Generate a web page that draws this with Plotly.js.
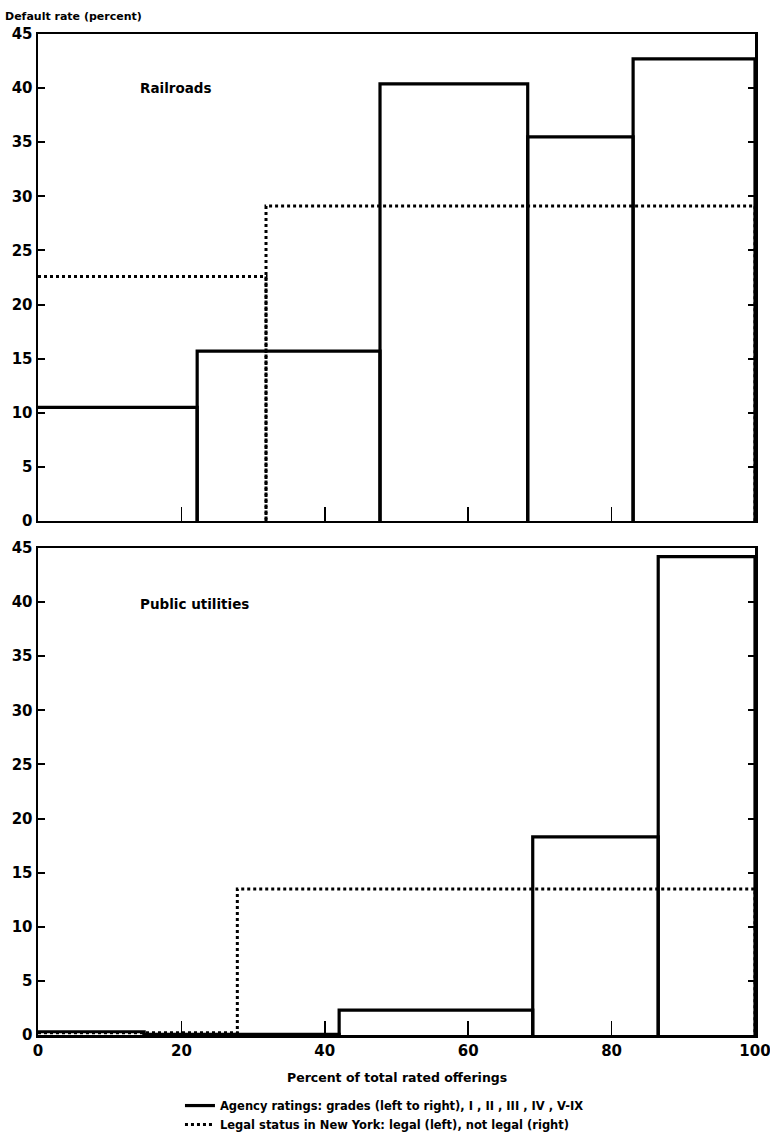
<!DOCTYPE html>
<html>
<head>
<meta charset="utf-8">
<script src="https://cdn.plot.ly/plotly-3.0.1.min.js"></script>
<style>html,body{margin:0;padding:0;background:#fff;}#chart{width:770px;height:1138px;}</style>
</head>
<body>
<div id="chart"></div>
<script>
// Railroads: agency rating grades I, II, III, IV, V-IX
const railAgencyEdges = [0, 22.2, 47.7, 68.3, 83.0, 100];
const railAgencyRates = [10.5, 15.7, 40.4, 35.5, 42.7];
// Railroads: legal status in New York (legal, not legal)
const railLegalEdges = [0, 31.8, 100];
const railLegalRates = [22.6, 29.1];
// Public utilities: agency rating grades
const utilAgencyEdges = [0, 14.8, 42.0, 69.0, 86.5, 100];
const utilAgencyRates = [0.3, 0.05, 2.3, 18.3, 44.2];
// Public utilities: legal status
const utilLegalEdges = [0, 27.8, 100];
const utilLegalRates = [0.2, 13.5];

const yTicks = [0, 5, 10, 15, 20, 25, 30, 35, 40, 45];
const xTicks = [0, 20, 40, 60, 80, 100];

// histogram-style outline; the edge at x = 0 lies on the axis and is not redrawn
function outline(edges, rates) {
  const xs = [], ys = [];
  for (let i = 0; i < rates.length; i++) {
    if (i > 0) { xs.push(edges[i]); ys.push(0); }
    xs.push(edges[i], edges[i + 1], edges[i + 1], null);
    ys.push(rates[i], rates[i], 0, null);
  }
  return {x: xs, y: ys};
}

const FONT = '"DejaVu Sans", Lato, sans-serif';
const solidLine = {color: '#000', width: 3.2};
const dotLine = {color: '#000', width: 3, dash: 'dot'};

const ra = outline(railAgencyEdges, railAgencyRates);
const rl = outline(railLegalEdges, railLegalRates);
const ua = outline(utilAgencyEdges, utilAgencyRates);
const ul = outline(utilLegalEdges, utilLegalRates);

const data = [
  {x: ra.x, y: ra.y, mode: 'lines', line: solidLine, xaxis: 'x', yaxis: 'y',
   name: 'Agency ratings: grades (left to right), I , II , III , IV , V-IX', showlegend: true, legendrank: 1, hoverinfo: 'skip'},
  {x: rl.x, y: rl.y, mode: 'lines', line: dotLine, xaxis: 'x', yaxis: 'y',
   name: 'Legal status in New York: legal (left), not legal (right)', showlegend: true, legendrank: 2, hoverinfo: 'skip'},
  {x: ua.x, y: ua.y, mode: 'lines', line: solidLine, xaxis: 'x2', yaxis: 'y2', showlegend: false, hoverinfo: 'skip'},
  {x: ul.x, y: ul.y, mode: 'lines', line: dotLine, xaxis: 'x2', yaxis: 'y2', showlegend: false, hoverinfo: 'skip'}
];

const yBase = {
  range: [0, 45], tickvals: yTicks, ticks: 'inside', ticklen: 7, tickwidth: 2, tickcolor: '#000',
  showline: true, linewidth: 2.5, linecolor: '#000', mirror: 'ticks', showgrid: false, zeroline: false,
  tickfont: {family: FONT, size: 15, color: '#000', weight: 700}, fixedrange: true
};
const xBase = {
  range: [0, 100], tickvals: xTicks, ticks: 'inside', ticklen: 14, tickwidth: 1.5, tickcolor: '#000',
  showline: true, linewidth: 2.5, linecolor: '#000', mirror: true, showgrid: false, zeroline: false,
  tickfont: {family: FONT, size: 15, color: '#000', weight: 700}, fixedrange: true,
  ticklabeloverflow: 'allow'
};

const layout = {
  width: 770, height: 1138,
  margin: {l: 38, r: 15, t: 34, b: 103, autoexpand: false},
  paper_bgcolor: '#fff', plot_bgcolor: '#fff',
  font: {family: FONT, color: '#000'},
  xaxis: Object.assign({}, xBase, {domain: [0, 1], anchor: 'y', showticklabels: false}),
  yaxis: Object.assign({}, yBase, {domain: [0.5135, 1], anchor: 'x'}),
  xaxis2: Object.assign({}, xBase, {domain: [0, 1], anchor: 'y2', showticklabels: true}),
  yaxis2: Object.assign({}, yBase, {domain: [0, 0.4865], anchor: 'x2'}),
  showlegend: true,
  legend: {
    x: 0.198, xanchor: 'left', y: -0.056, yanchor: 'top', orientation: 'v',
    font: {family: FONT, size: 11.5, color: '#000', weight: 600},
    tracegroupgap: 0, itemwidth: 30, bgcolor: 'rgba(0,0,0,0)', traceorder: 'normal'
  },
  annotations: [
    {text: 'Default rate (percent)', xref: 'paper', yref: 'paper', x: -0.049, y: 1.017,
     xanchor: 'left', yanchor: 'middle', showarrow: false, font: {family: FONT, size: 11, weight: 700, color: '#000'}},
    {text: 'Railroads', xref: 'x', yref: 'y', x: 13.9, y: 40, xanchor: 'left', yanchor: 'middle',
     showarrow: false, font: {family: FONT, size: 13.5, weight: 600, color: '#000'}},
    {text: 'Public utilities', xref: 'x2', yref: 'y2', x: 13.9, y: 39.8, xanchor: 'left', yanchor: 'middle',
     showarrow: false, font: {family: FONT, size: 13.5, weight: 600, color: '#000'}},
    {text: 'Percent of total rated offerings', xref: 'paper', yref: 'paper', x: 0.5, y: -0.042,
     xanchor: 'center', yanchor: 'middle', showarrow: false, font: {family: FONT, size: 12.5, weight: 600, color: '#000'}}
  ]
};

Plotly.newPlot('chart', data, layout, {displayModeBar: false, staticPlot: true});
</script>
</body>
</html>
